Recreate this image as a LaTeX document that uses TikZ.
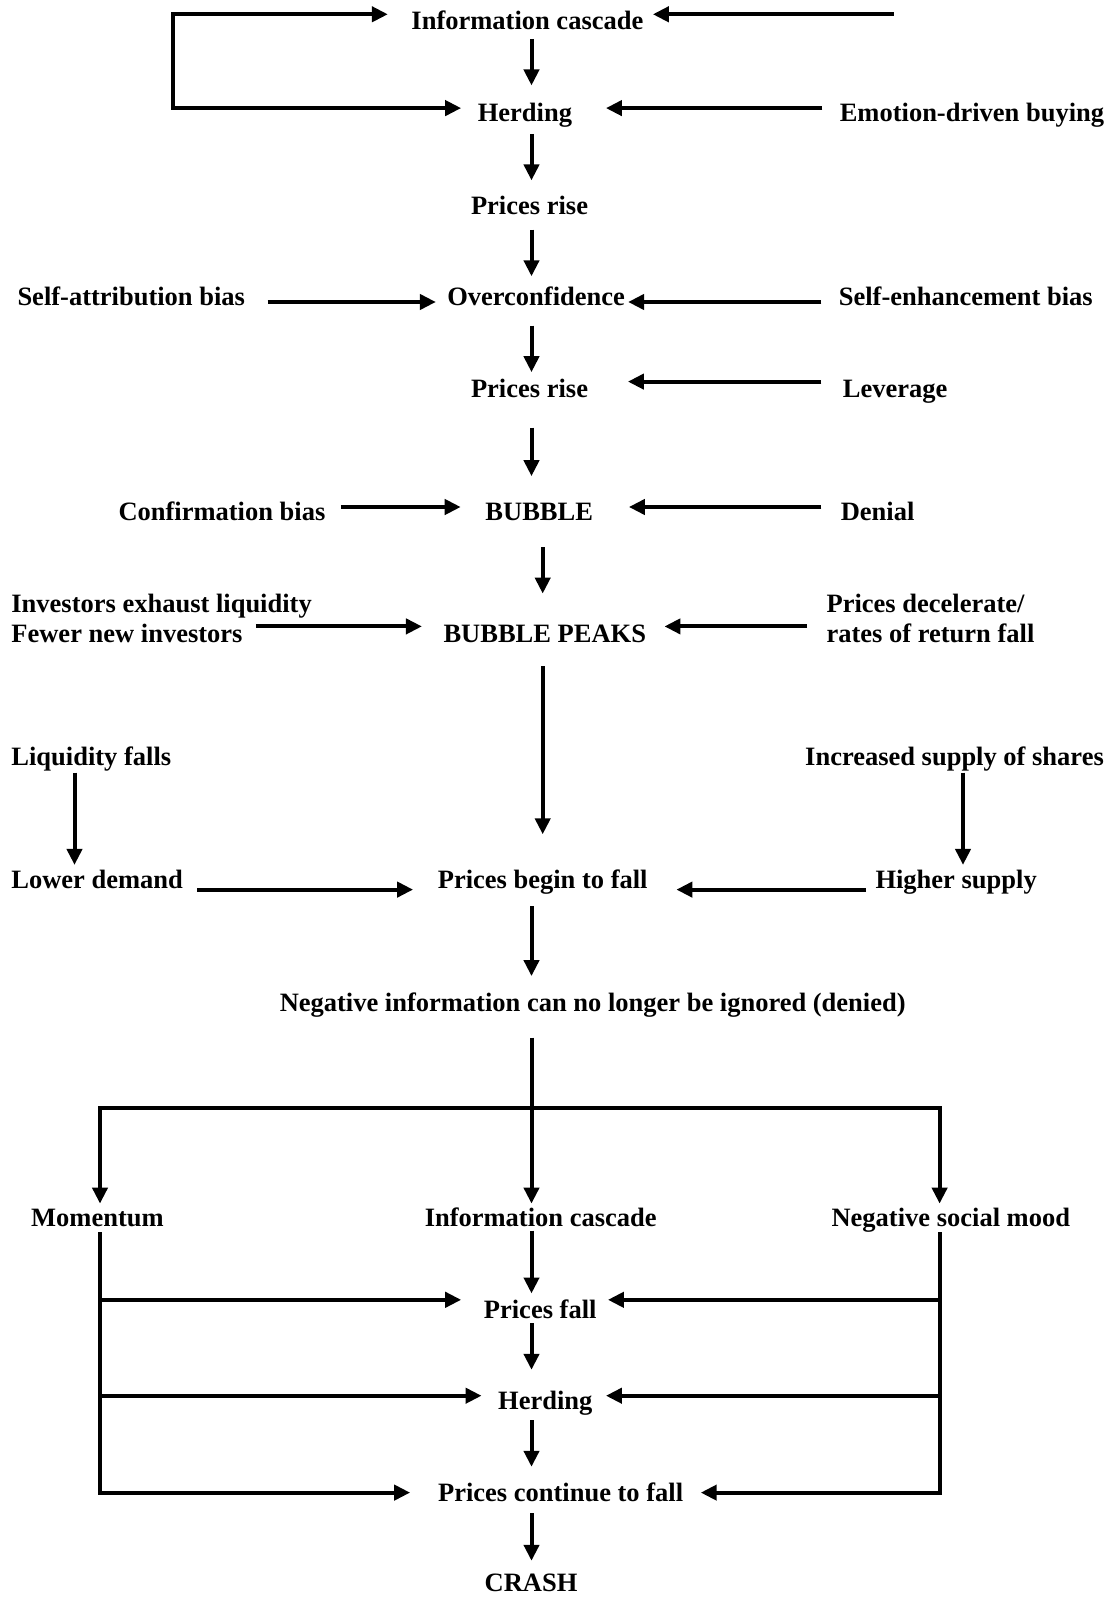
\documentclass[tikz,border=0pt]{standalone}
\usepackage{fontspec}
\setmainfont{Liberation Serif}
\usetikzlibrary{arrows.meta}
\tikzset{
  lbl/.style={font=\bfseries\fontsize{26.5}{31.8}\selectfont, inner sep=0pt, text height=18pt, text depth=6pt},
  cbox/.style={lbl, anchor=base},
  lbox/.style={lbl, anchor=base west},
  conn/.style={line width=4pt},
  harrow/.style={conn, -{Triangle[length=16pt,width=15pt]}},
  bothar/.style={conn, {Triangle[length=16pt,width=15pt]}-{Triangle[length=16pt,width=15pt]}, line join=miter},
}
\begin{document}
\begin{tikzpicture}[x=1pt,y=-1pt]
\useasboundingbox (0,0) rectangle (1114,1600);
% helper x positions
\coordinate (spine) at (531.5,0);
\coordinate (spineb) at (542.7,0);
\coordinate (liqx) at (74.5,0);
\coordinate (incx) at (963,0);
\coordinate (barL) at (100,1108);
\coordinate (barR) at (939.6,1108);
\coordinate (topfree) at (893.7,14.3);

% centre column
\node[cbox] (ic1) at (527.4,30) {Information cascade};
\node[cbox] (herd1) at (524.9,122) {Herding};
\node[cbox] (pr1) at (529.5,214) {Prices rise};
\node[cbox] (oc) at (536.1,305.5) {Overconfidence};
\node[cbox] (pr2) at (529.5,397.5) {Prices rise};
\node[cbox] (bub) at (539.2,520) {BUBBLE};
\node[cbox] (peaks) at (544.8,642.5) {BUBBLE PEAKS};
\node[cbox] (begin) at (542.7,888) {Prices begin to fall};
\node[cbox] (neg) at (592.7,1011.5) {Negative information can no longer be ignored (denied)};
\node[cbox] (ic2) at (540.7,1226) {Information cascade};
\node[cbox] (mom) at (97.4,1226) {Momentum};
\node[cbox] (mood) at (950.8,1226) {Negative social mood};
\node[cbox] (pf) at (540.2,1318) {Prices fall};
\node[cbox] (herd2) at (545.3,1409.5) {Herding};
\node[cbox] (cont) at (560.6,1501) {Prices continue to fall};
\node[cbox] (crash) at (531,1591) {CRASH};

% side texts
\node[lbox] (emotion) at (839.6,122) {Emotion-driven buying};
\node[lbox] (selfattr) at (17.3,305.5) {Self-attribution bias};
\node[lbox] (selfenh) at (838.6,305.5) {Self-enhancement bias};
\node[lbox] (lev) at (842.7,397.5) {Leverage};
\node[lbox] (conf) at (118.3,520) {Confirmation bias};
\node[lbox] (denial) at (840.6,520) {Denial};
\node[lbox] (inv) at (11.2,612) {Investors exhaust liquidity};
\node[lbox] (fewer) at (11.2,642.5) {Fewer new investors};
\node[lbox] (decel) at (826.4,612) {Prices decelerate/};
\node[lbox] (rates) at (826.4,642.5) {rates of return fall};
\node[lbox] (liq) at (11.2,765.7) {Liquidity falls};
\node[lbox] (incr) at (805,765.7) {Increased supply of shares};
\node[lbox] (lower) at (11.2,888) {Lower demand};
\node[lbox] (higher) at (875.3,888) {Higher supply};

% vertical arrows
\draw[harrow, shorten <=2.8pt, shorten >=18.3pt] (ic1.south -| spine) -- (herd1.north -| spine);
\draw[harrow, shorten <=5.6pt, shorten >=15.4pt] (herd1.south -| spine) -- (pr1.north -| spine);
\draw[harrow, shorten <=9.5pt, shorten >=11pt] (pr1.south -| spine) -- (oc.north -| spine);
\draw[harrow, shorten <=13.9pt, shorten >=7.1pt] (oc.south -| spine) -- (pr2.north -| spine);
\draw[harrow, shorten <=24pt, shorten >=25.6pt] (pr2.south -| spine) -- (bub.north -| spine);
\draw[harrow, shorten <=20.8pt, shorten >=30.7pt] (bub.south -| spineb) -- (peaks.north -| spineb);
\draw[harrow, shorten <=17.7pt, shorten >=35.5pt] (peaks.south -| spineb) -- (begin.north -| spineb);
\draw[harrow, shorten <=0.6pt, shorten >=4.9pt] (liq.south -| liqx) -- (lower.north -| liqx);
\draw[harrow, shorten <=0.6pt, shorten >=4.9pt] (incr.south -| incx) -- (higher.north -| incx);
\draw[harrow, shorten <=12pt, shorten >=17.2pt] (begin.south -| spine) -- (neg.north -| spine);
\draw[harrow, shorten <=20pt, shorten >=4.2pt] (neg.south -| spine) -- (ic2.north -| spine);
\draw[harrow, shorten <=-1.5pt, shorten >=6.3pt] (ic2.south -| spine) -- (pf.north -| spine);
\draw[harrow, shorten <=-0.8pt, shorten >=21.5pt] (pf.south -| spine) -- (herd2.north -| spine);
\draw[harrow, shorten <=4.6pt, shorten >=16pt] (herd2.south -| spine) -- (cont.north -| spine);
\draw[harrow, shorten <=6pt, shorten >=12pt] (cont.south -| spine) -- (crash.north -| spine);

% top feedback
\draw[harrow, shorten >=9.3pt] (topfree) -- ([yshift=15.7pt]ic1.base east);
\draw[bothar] ([xshift=-23.4pt,yshift=15.7pt]ic1.base west) -- ++(-215.3,0) |- ([xshift=-16.4pt,yshift=13.9pt]herd1.base west);

% horizontal arrows
\draw[harrow, shorten <=17.3pt, shorten >=33.7pt] ([yshift=13.9pt]emotion.base west) -- ([yshift=13.9pt]herd1.base east);
\draw[harrow, shorten <=22.4pt, shorten >=11.2pt] ([yshift=3.5pt]selfattr.base east) -- ([yshift=3.5pt]oc.base west);
\draw[harrow, shorten <=17.3pt, shorten >=3pt] ([yshift=3.5pt]selfenh.base west) -- ([yshift=3.5pt]oc.base east);
\draw[harrow, shorten <=21.4pt, shorten >=39.7pt] ([yshift=15.9pt]lev.base west) -- ([yshift=15.9pt]pr2.base east);
\draw[harrow, shorten <=15.3pt, shorten >=24.5pt] ([yshift=13pt]conf.base east) -- ([yshift=13pt]bub.base west);
\draw[harrow, shorten <=19.3pt, shorten >=35.7pt] ([yshift=13pt]denial.base west) -- ([yshift=13pt]bub.base east);
\draw[harrow, shorten <=13.2pt, shorten >=21.4pt] ([yshift=16.1pt]fewer.base east) -- ([yshift=16.1pt]peaks.base west);
\draw[harrow, shorten <=19.4pt, shorten >=18.2pt] ([yshift=16.1pt]rates.base west) -- ([yshift=16.1pt]peaks.base east);
\draw[harrow, shorten <=14.3pt, shorten >=24.5pt] ([yshift=-1.6pt]lower.base east) -- ([yshift=-1.6pt]begin.base west);
\draw[harrow, shorten <=9.1pt, shorten >=28.6pt] ([yshift=-1.6pt]higher.base west) -- ([yshift=-1.6pt]begin.base east);

% fan out below negative information
\draw[bothar, shorten <=4.2pt, shorten >=4.2pt] (barL |- mom.north) -- (barL) -- (barR) -- (barR |- mood.north);

% rows of the lower block
\coordinate (pfL) at ([yshift=18.2pt]pf.base west);
\coordinate (pfR) at ([yshift=18.2pt]pf.base east);
\coordinate (hdL) at ([yshift=13.8pt]herd2.base west);
\coordinate (hdR) at ([yshift=13.8pt]herd2.base east);
\coordinate (ctL) at ([yshift=8.4pt]cont.base west);
\coordinate (ctR) at ([yshift=8.4pt]cont.base east);

\draw[harrow, line join=miter, shorten >=27.7pt] (barL |- mom.south) |- (ctL);
\draw[harrow, shorten >=22.5pt] (barL |- pfL) -- (pfL);
\draw[harrow, shorten >=16.4pt] (barL |- hdL) -- (hdL);
\draw[harrow, line join=miter, shorten >=17.4pt] (barR |- mood.south) |- (ctR);
\draw[harrow, shorten >=11.2pt] (barR |- pfR) -- (pfR);
\draw[harrow, shorten >=13.3pt] (barR |- hdR) -- (hdR);
\end{tikzpicture}
\end{document}
